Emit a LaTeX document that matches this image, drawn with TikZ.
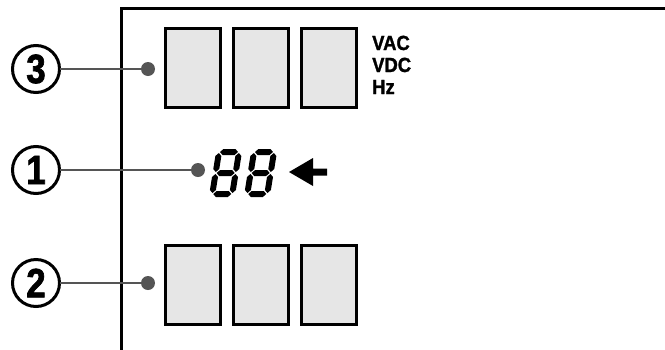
\documentclass[tikz,border=0pt]{standalone}
\usepackage{fontspec}
\usepackage{graphicx}
\setmainfont{Liberation Sans}
\newfontfamily\heavyfont[FakeBold=1.4,FakeStretch=0.9]{Liberation Sans Bold}
\newfontfamily\heavynarrow[FakeBold=1.6,FakeStretch=0.85]{Liberation Sans Bold}
\definecolor{conngray}{HTML}{555555}
\definecolor{boxgray}{HTML}{E6E6E6}
\newcommand\myhseg[3]{\fill[segfill] (#1,#3) -- ++(3,-3) -- (#2-3,#3-3) -- (#2,#3) -- (#2-3,#3+3) -- (#1+3,#3+3) -- cycle;}
\newcommand\myvseg[3]{\fill[segfill] (#1,#2) -- ++(3,3) -- (#1+3,#3-3) -- (#1,#3) -- (#1-3,#3-3) -- (#1-3,#2+3) -- cycle;}
\newcommand\mysegdigit[2]{%
  \begin{scope}[shift={(#1,#2)},xslant=0.16]
    \myhseg{1}{19}{0}
    \myhseg{1}{19}{21}
    \myhseg{1}{19}{42}
    \myvseg{0}{1}{20}
    \myvseg{20}{1}{20}
    \myvseg{0}{22}{41}
    \myvseg{20}{22}{41}
  \end{scope}}
\begin{document}
\begin{tikzpicture}[x=1pt,y=-1pt,
  numcircle/.style={circle,draw=black,line width=3pt,minimum size=47pt,inner sep=0pt,outer sep=0pt,
    font=\heavynarrow\fontsize{41}{41}\selectfont},
  dotnode/.style={circle,fill=conngray,minimum size=14pt,inner sep=0pt,outer sep=0pt},
  conn/.style={conngray,line width=2.2pt},
  lcdbox/.style={rectangle,draw=black,fill=boxgray,line width=3pt,minimum width=55pt,minimum height=79pt,inner sep=0pt,outer sep=0pt},
  unitlabel/.style={anchor=base west,inner sep=0pt,font=\heavyfont\fontsize{20.5}{22}\selectfont},
  segfill/.style={fill=black}]
\useasboundingbox (0,0) rectangle (665,349);
\fill[white] (0,0) rectangle (665,349);
% panel frame
\draw[line width=3pt,line join=miter] (121,360) -- (121,8) -- (680,8);
% top boxes
\node[lcdbox] (t1) at (192.5,68) {};
\node[lcdbox] (t2) at (261,68) {};
\node[lcdbox] (t3) at (329,68) {};
% bottom boxes
\node[lcdbox] (b1) at (192.5,285) {};
\node[lcdbox] (b2) at (261,285) {};
\node[lcdbox] (b3) at (329,285) {};
% unit labels
\node[unitlabel] (vac) at (372,50) {VAC};
\node[unitlabel] (vdc) at (372,72) {VDC};
\node[unitlabel] (hz) at (372,94) {Hz};
% callouts
\node[numcircle] (c3) at (36,69) {3};
\node[numcircle] (c1) at (36,170) {1};
\node[numcircle] (c2) at (36,283) {2};
\node[dotnode] (d3) at (148,69) {};
\node[dotnode] (d1) at (198,170) {};
\node[dotnode] (d2) at (148,283) {};
\draw[conn] (c3) -- (d3);
\draw[conn] (c1) -- (d1);
\draw[conn] (c2) -- (d2);
% seven-segment 88
\mysegdigit{219}{152}
\mysegdigit{254}{152}
% arrow
\fill[black] (289,172) -- (313,158) -- (313,168.5) -- (327,168.5) -- (327,175.5) -- (313,175.5) -- (313,186) -- cycle;
\end{tikzpicture}
\end{document}
